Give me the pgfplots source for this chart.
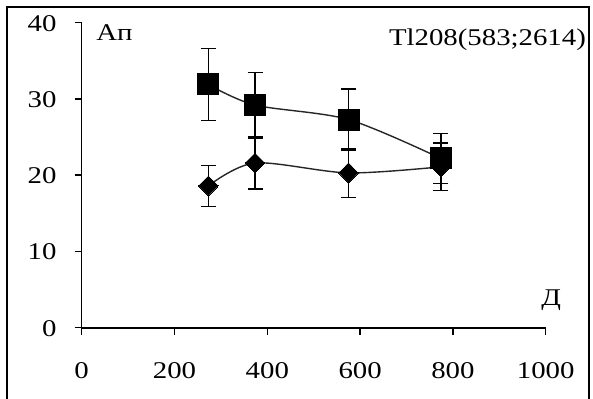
\documentclass[border=0pt]{standalone}
\usepackage{pgfplots}
\pgfplotsset{compat=1.18}
\usepackage{fontspec}
\setmainfont{Liberation Serif}[FakeStretch=1.2]
\begin{document}
\begin{tikzpicture}
\begin{axis}[
  at={(0,0)}, anchor=origin,
  x=0.464bp, y=7.625bp,
  xmin=0, xmax=1000, ymin=0, ymax=40,
  axis x line=bottom, axis y line=left,
  axis line style={line width=1.6bp, -},
  xtick={0,200,...,1000}, ytick={0,10,...,40},
  tick align=outside, major tick length=7bp,
  tick style={line width=1.4bp, black},
  /pgf/number format/assume math mode=true,
  /pgf/number format/set thousands separator={},
  ticklabel style={font=\fontsize{24bp}{26bp}\selectfont, inner sep=0pt},
  xticklabel style={anchor=base, yshift=-44bp},
  yticklabel style={anchor=east, xshift=-18bp, yshift=-0.5bp},
  clip=false,
  error bars/error bar style={line width=1.4bp, black},
  error bars/error mark options={rotate=90, mark size=7.5bp, line width=1.4bp, black},
]
\addplot[smooth, tension=0.5, line width=1.4bp, color=black!85,
  mark=square*, mark size=10.5bp, mark options={fill=black, draw=black, line width=0pt},
  error bars/.cd, y dir=both, y explicit]
  table[x=x, y=y, y error=e] {
x y e
273 31.9 4.7
373.5 29.2 4.3
575 27.3 4.0
774 22.2 3.25
};
\addplot[smooth, tension=0.5, line width=1.4bp, color=black!85,
  mark=diamond*, mark size=10bp, mark options={fill=black, draw=black, line width=0pt, xscale=1.3},
  error bars/.cd, y dir=both, y explicit]
  table[x=x, y=y, y error=e] {
x y e
273 18.6 2.7
373.5 21.6 3.4
575 20.3 3.2
774 21.1 3.1
};
\node[anchor=base west, inner sep=0pt, font=\fontsize{24bp}{26bp}\selectfont] at (axis cs:31,37.67) {Ап};
\node[anchor=base east, inner sep=0pt, font=\fontsize{24bp}{26bp}\selectfont] at (axis cs:1087,37.0) {Tl208(583;2614)};
\node[anchor=base west, inner sep=0pt, font=\fontsize{24bp}{26bp}\selectfont] at (axis cs:990,2.85) {Д};
\end{axis}
\draw[line width=2bp] (-74.7bp,-75bp) -- (-74.7bp,320.7bp) -- (507.3bp,320.7bp) -- (507.3bp,-75bp);
\pgfresetboundingbox
\path[use as bounding box] (-81.7bp,-71.3bp) rectangle (511.3bp,327.7bp);
\end{tikzpicture}
\end{document}
